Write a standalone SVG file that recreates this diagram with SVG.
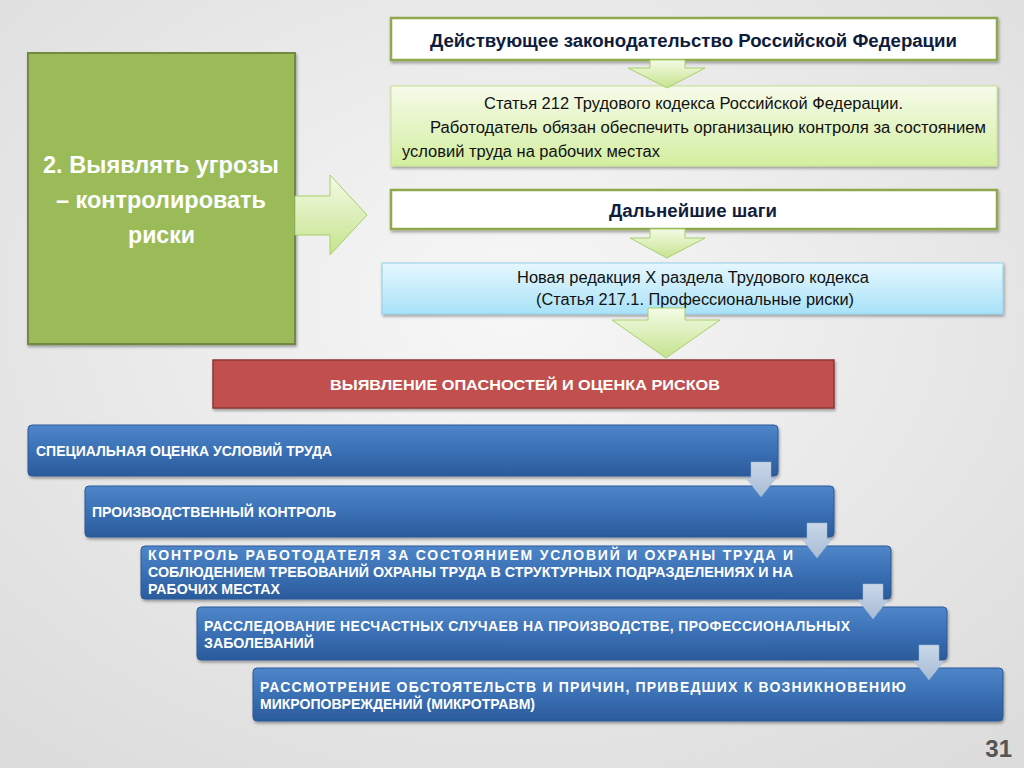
<svg xmlns="http://www.w3.org/2000/svg" width="1024" height="768" viewBox="0 0 1024 768">
<defs>
<radialGradient id="bg" cx="50%" cy="40%" r="75%"><stop offset="0" stop-color="#f7f7f7"/><stop offset="1" stop-color="#dcdcdc"/></radialGradient>
<linearGradient id="lg" x1="0" y1="0" x2="0" y2="1"><stop offset="0" stop-color="#f6fbea"/><stop offset="1" stop-color="#d3eea0"/></linearGradient>
<linearGradient id="lb" x1="0" y1="0" x2="0" y2="1"><stop offset="0" stop-color="#e6f7fd"/><stop offset="1" stop-color="#a9e2f8"/></linearGradient>
<linearGradient id="ar" x1="0" y1="0" x2="0" y2="1"><stop offset="0" stop-color="#f4fbe6"/><stop offset="1" stop-color="#c5e38e"/></linearGradient>
<linearGradient id="bl" x1="0" y1="0" x2="0" y2="1"><stop offset="0" stop-color="#4f86c9"/><stop offset="0.5" stop-color="#3a70b5"/><stop offset="1" stop-color="#2b5b9b"/></linearGradient>
<linearGradient id="sa" x1="0" y1="0" x2="0" y2="1"><stop offset="0" stop-color="#c9d7e8"/><stop offset="1" stop-color="#a9bcd6"/></linearGradient>
<filter id="sh" x="-5%" y="-20%" width="110%" height="150%"><feDropShadow dx="1" dy="2" stdDeviation="1.5" flood-opacity="0.35"/></filter>
</defs>
<style>
text{font-family:"Liberation Sans",Arial,sans-serif}
.h{font-size:18px;font-weight:bold;fill:#0f1c3c}
.n{font-size:16px;fill:#111}
.w{font-size:14px;font-weight:bold;fill:#fff}
.bar{fill:url(#bl);stroke:#2b5b9b;stroke-width:1;filter:url(#sh)}
.arw{fill:url(#ar);stroke:#a9cf6d;stroke-width:1}
.sa{fill:url(#sa);stroke:#9fb4d0;stroke-width:0.5}
.lt{font-size:23px;font-weight:bold;fill:#fff}
</style>
<rect width="1024" height="768" fill="url(#bg)"/>
<g id="left"><rect x="28" y="53" width="267" height="291" fill="#9bbb59" stroke="#71893f" stroke-width="2" filter="url(#sh)"/>
<text class="lt" x="43" y="173" textLength="236" lengthAdjust="spacingAndGlyphs">2. Выявлять угрозы</text>
<text class="lt" x="56" y="208" textLength="210" lengthAdjust="spacingAndGlyphs">– контролировать</text>
<text class="lt" x="128" y="243" textLength="67" lengthAdjust="spacingAndGlyphs">риски</text></g>
<g id="n1"><rect x="391" y="18" width="606" height="42" fill="#fff" stroke="#8fa84c" stroke-width="2.5" filter="url(#sh)"/>
<text class="h" x="430" y="47" textLength="527" lengthAdjust="spacingAndGlyphs">Действующее законодательство Российской Федерации</text></g>
<g id="n2"><rect x="391" y="86" width="606" height="80" fill="url(#lg)" stroke="#c8e28f" stroke-width="1" filter="url(#sh)"/>
<text class="n" x="484" y="109" textLength="419" lengthAdjust="spacingAndGlyphs">Статья 212 Трудового кодекса Российской Федерации.</text>
<text class="n" x="430" y="133" textLength="556" lengthAdjust="spacingAndGlyphs">Работодатель обязан обеспечить организацию контроля за состоянием</text>
<text class="n" x="402" y="157" textLength="258" lengthAdjust="spacingAndGlyphs">условий труда на рабочих местах</text></g>
<g id="n3"><rect x="391" y="190" width="606" height="39" fill="#fff" stroke="#8fa84c" stroke-width="2.5" filter="url(#sh)"/>
<text class="h" x="609" y="217" textLength="168" lengthAdjust="spacingAndGlyphs">Дальнейшие шаги</text></g>
<g id="n4"><rect x="382" y="263" width="621" height="51" fill="url(#lb)" stroke="#8fd0ea" stroke-width="1" filter="url(#sh)"/>
<text class="n" x="517" y="283" textLength="352" lengthAdjust="spacingAndGlyphs">Новая редакция X раздела Трудового кодекса</text>
<text class="n" x="536" y="305" textLength="318" lengthAdjust="spacingAndGlyphs">(Статья 217.1. Профессиональные риски)</text></g>
<g id="n5"><rect x="213" y="360" width="621" height="48" fill="#c0504d" stroke="#8c3836" stroke-width="1.5" filter="url(#sh)"/>
<text x="330" y="390" font-size="15" font-weight="bold" fill="#fff" textLength="390" lengthAdjust="spacingAndGlyphs">ВЫЯВЛЕНИЕ ОПАСНОСТЕЙ И ОЦЕНКА РИСКОВ</text></g>
<g id="b1"><rect class="bar" x="28" y="425" width="750" height="51" rx="4"/>
<text class="w" x="36" y="456" textLength="296" lengthAdjust="spacingAndGlyphs">СПЕЦИАЛЬНАЯ ОЦЕНКА УСЛОВИЙ ТРУДА</text></g>
<g id="b2"><rect class="bar" x="85" y="486" width="749" height="51" rx="4"/>
<text class="w" x="92" y="517" textLength="244" lengthAdjust="spacingAndGlyphs">ПРОИЗВОДСТВЕННЫЙ КОНТРОЛЬ</text></g>
<g id="b3"><rect class="bar" x="141" y="546" width="750" height="53" rx="4"/>
<text class="w" x="148" y="560" textLength="645" lengthAdjust="spacing">КОНТРОЛЬ РАБОТОДАТЕЛЯ ЗА СОСТОЯНИЕМ УСЛОВИЙ И ОХРАНЫ ТРУДА И</text>
<text class="w" x="148" y="577" textLength="645" lengthAdjust="spacingAndGlyphs">СОБЛЮДЕНИЕМ ТРЕБОВАНИЙ ОХРАНЫ ТРУДА В СТРУКТУРНЫХ ПОДРАЗДЕЛЕНИЯХ И НА</text>
<text class="w" x="148" y="594" textLength="132" lengthAdjust="spacingAndGlyphs">РАБОЧИХ МЕСТАХ</text></g>
<g id="b4"><rect class="bar" x="197" y="607" width="750" height="53" rx="4"/>
<text class="w" x="204" y="631" textLength="646" lengthAdjust="spacing">РАССЛЕДОВАНИЕ НЕСЧАСТНЫХ СЛУЧАЕВ НА ПРОИЗВОДСТВЕ, ПРОФЕССИОНАЛЬНЫХ</text>
<text class="w" x="204" y="648" textLength="110" lengthAdjust="spacingAndGlyphs">ЗАБОЛЕВАНИЙ</text></g>
<g id="b5"><rect class="bar" x="253" y="668" width="750" height="53" rx="4"/>
<text class="w" x="260" y="692" textLength="646" lengthAdjust="spacing">РАССМОТРЕНИЕ ОБСТОЯТЕЛЬСТВ И ПРИЧИН, ПРИВЕДШИХ К ВОЗНИКНОВЕНИЮ</text>
<text class="w" x="260" y="709" textLength="275" lengthAdjust="spacingAndGlyphs">МИКРОПОВРЕЖДЕНИЙ (МИКРОТРАВМ)</text></g>
<g id="connectors">
<path class="arw" d="M295 196H330V175L367 215L330 255V235H295Z"/>
<path class="arw" d="M650 60H685V68H705L667 88L628 68H650Z"/>
<path class="arw" d="M650 229H685V238H705L667 258L630 238H650Z"/>
<path class="arw" d="M648 308H685V320H720L666 358L612 320H648Z"/>
<path class="sa" d="M751 462H771V478H776L761 497L746 478H751Z"/>
<path class="sa" d="M807 523H827V539H832L817 558L802 539H807Z"/>
<path class="sa" d="M863 584H883V600H888L873 619L858 600H863Z"/>
<path class="sa" d="M919 645H939V661H944L929 680L914 661H919Z"/>
</g>
<text x="1012" y="757" font-size="24" font-weight="bold" fill="#555" text-anchor="end">31</text>
</svg>
